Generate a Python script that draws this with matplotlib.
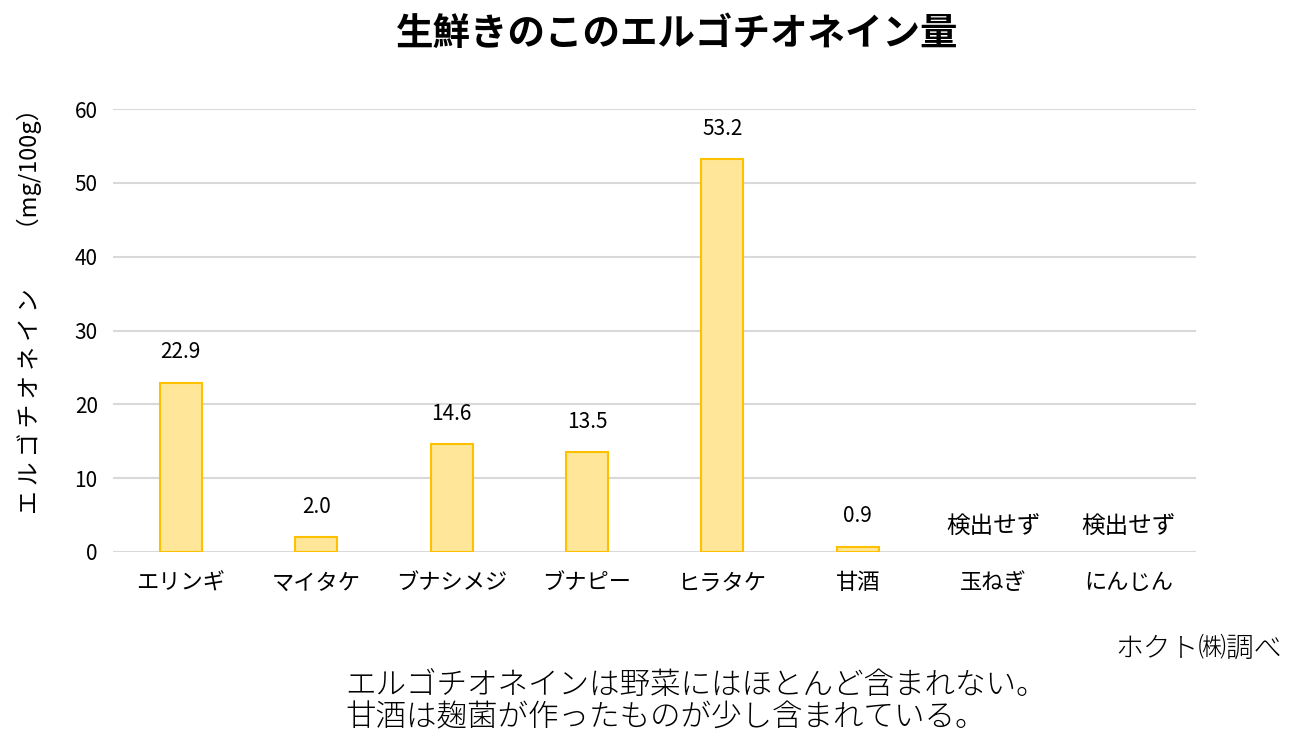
import matplotlib
matplotlib.use('Agg')
import matplotlib.pyplot as plt

plt.rcParams['font.family'] = ['Noto Sans CJK JP', 'DejaVu Sans']

foods = ['エリンギ', 'マイタケ', 'ブナシメジ', 'ブナピー', 'ヒラタケ', '甘酒', '玉ねぎ', 'にんじん']
ergo = [22.9, 2.0, 14.6, 13.5, 53.2, 0.7, 0, 0]
labels = ['22.9', '2.0', '14.6', '13.5', '53.2', '0.9', '検出せず', '検出せず']
yticks = [0, 10, 20, 30, 40, 50, 60]

fig = plt.figure(figsize=(12.99, 7.53), dpi=100)
ax = fig.add_axes([0.087, 0.267, 0.834, 0.588])

x = range(len(foods))
ax.bar(x, ergo, width=0.31, color='#FFE699', edgecolor='#FFC000',
       linewidth=[1.5 if v > 0 else 0 for v in ergo], zorder=3)

for i, (v, lab) in enumerate(zip(ergo, labels)):
    nd = lab == '検出せず'
    ax.annotate(lab, (i, v), xytext=(0, 18 if nd else 22), textcoords='offset points',
                ha='center', va='center', fontsize=17 if nd else 15)

ax.set_xlim(-0.5, len(foods) - 0.5)
ax.set_ylim(0, 60)
ax.set_yticks(yticks)
ax.set_xticks(list(x))
ax.set_xticklabels(foods, fontsize=16)
ax.tick_params(axis='x', length=0, pad=14)
ax.tick_params(axis='y', length=0, pad=11, labelsize=15)
ax.grid(axis='y', color='#d9d9d9', linewidth=1.5, zorder=0)
for s in ax.spines.values():
    s.set_visible(False)

fig.text(0.521, 0.956, '生鮮きのこのエルゴチオネイン量', ha='center', va='center',
         fontsize=27, fontweight='bold')
fig.text(0.023, 0.595, 'エ ル ゴ チ オ ネ イ ン　　（mg/100g）', rotation=90,
         ha='center', va='center', fontsize=17)
fig.text(0.987, 0.139, 'ホクト㈱調べ', ha='right', va='center', fontsize=20, fontweight='light')
fig.text(0.266, 0.069, 'エルゴチオネインは野菜にはほとんど含まれない。\n甘酒は麹菌が作ったものが少し含まれている。',
         ha='left', va='center', fontsize=22, fontweight='light', linespacing=1.0)

fig.savefig('out.png', dpi=100)
